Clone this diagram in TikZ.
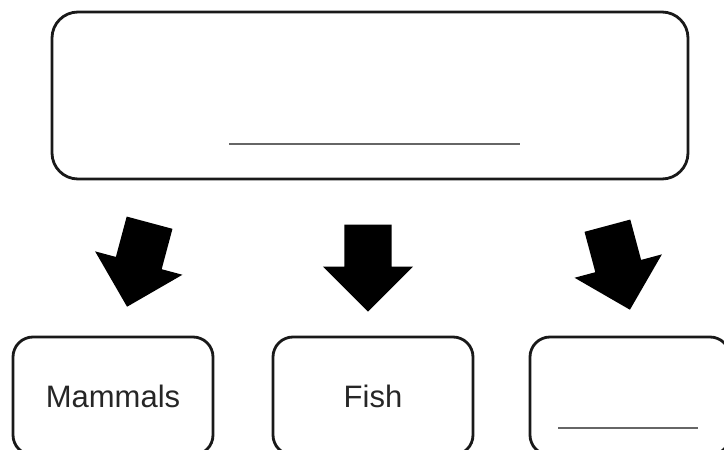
\documentclass[tikz,border=0pt]{standalone}
\usepackage{fontspec}
\setmainfont{Liberation Sans}
\usetikzlibrary{shapes.arrows}
\begin{document}
\begin{tikzpicture}[x=1pt,y=-1pt]

    \tikzstyle{box}=[rectangle, draw=black!90, line width=2.8pt, inner sep=0pt,
                     text=black!85, font=\fontsize{31}{36}\selectfont]
    \tikzstyle{blank}=[draw=black!60, line width=1.8pt]
    \tikzstyle{bigarrow}=[single arrow, fill=black, inner xsep=0pt, inner ysep=23.5pt,
                          minimum width=90pt, minimum height=87pt,
                          single arrow head extend=21.5pt,
                          single arrow head indent=0pt, anchor=tip]

    \clip (0,0) rectangle (724,450);

    % top box
    \node[box, rounded corners=26pt, minimum width=636pt, minimum height=167pt]
          (group) at (370,95.5) {};
    \draw[blank] (229,144) -- (520,144);

    % arrows
    \node[bigarrow, rotate=255] (arrL) at (127,307) {};
    \node[bigarrow, rotate=270] (arrM) at (368,312) {};
    \node[bigarrow, rotate=285] (arrR) at (630,310) {};

    % bottom boxes
    \node[box, rounded corners=20pt, minimum width=200pt, minimum height=118pt]
          (mammals) at (113,396) {Mammals};
    \node[box, rounded corners=20pt, minimum width=200pt, minimum height=118pt]
          (fish)    at (373,396) {Fish};
    \node[box, rounded corners=20pt, minimum width=200pt, minimum height=118pt]
          (other)   at (630,396) {};
    \draw[blank] (558,428) -- (698,428);

\end{tikzpicture}
\end{document}
